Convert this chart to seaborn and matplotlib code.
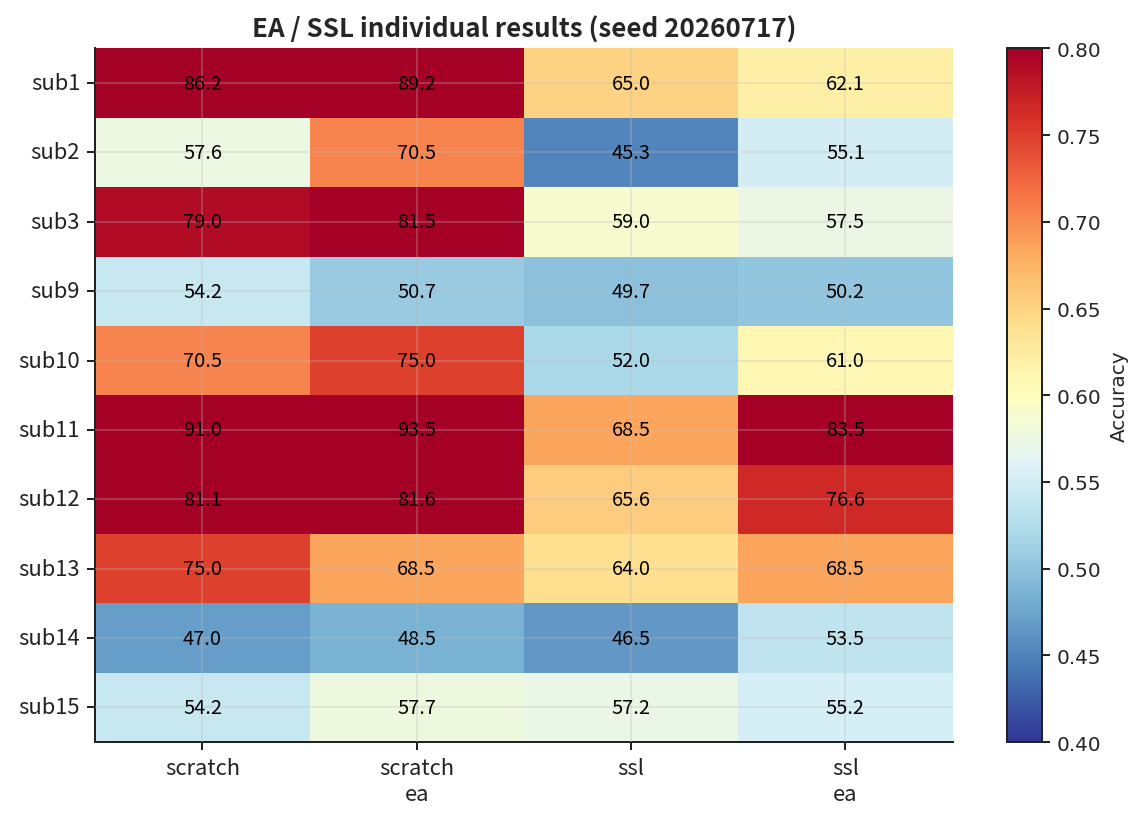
import numpy as np
import pandas as pd
import seaborn as sns
import matplotlib.pyplot as plt

subjects = ['sub1', 'sub2', 'sub3', 'sub9', 'sub10', 'sub11', 'sub12', 'sub13', 'sub14', 'sub15']
methods = ['scratch', 'scratch\nea', 'ssl', 'ssl\nea']

scratch = [86.2, 57.6, 79.0, 54.2, 70.5, 91.0, 81.1, 75.0, 47.0, 54.2]
scratch_ea = [89.2, 70.5, 81.5, 50.7, 75.0, 93.5, 81.6, 68.5, 48.5, 57.7]
ssl = [65.0, 45.3, 59.0, 49.7, 52.0, 68.5, 65.6, 64.0, 46.5, 57.2]
ssl_ea = [62.1, 55.1, 57.5, 50.2, 61.0, 83.5, 76.6, 68.5, 53.5, 55.2]

acc = pd.DataFrame({'scratch': scratch, 'scratch\nea': scratch_ea,
                    'ssl': ssl, 'ssl\nea': ssl_ea}, index=subjects)[methods] / 100.0

sns.set_theme(style='white')
plt.rcParams['font.family'] = ['DejaVu Sans']
cjk = ['Noto Sans CJK TC', 'DejaVu Sans']

fig, ax = plt.subplots(figsize=(7.97, 5.715), dpi=144)
plt.subplots_adjust(left=0.083, right=0.83, top=0.94, bottom=0.097)
cax = fig.add_axes([0.877, 0.097, 0.031, 0.843])

sns.heatmap(acc, cmap='RdYlBu_r', vmin=0.4, vmax=0.8, ax=ax, cbar_ax=cax,
            annot=acc.values * 100, fmt='.1f',
            annot_kws={'color': 'black', 'fontsize': 10, 'family': cjk},
            cbar_kws={'label': 'Accuracy'})

ax.set_axisbelow(False)
ax.grid(True, color='#bbbbbb', alpha=0.35, linewidth=0.8)
for side in ['left', 'bottom']:
    ax.spines[side].set_visible(True)
    ax.spines[side].set_color('#222222')
    ax.spines[side].set_linewidth(1.0)
ax.tick_params(axis='both', length=4, width=1, colors='#222222', left=True, bottom=True)
ax.set_xticklabels(methods, rotation=0, fontsize=11, family=cjk)
ax.set_yticklabels(subjects, rotation=0, fontsize=11, family=cjk)
ax.set_xlabel('')
ax.set_ylabel('')
ax.set_title('EA / SSL individual results (seed 20260717)', fontsize=13,
             fontweight='bold', family=cjk, pad=6)

cax.tick_params(labelsize=10, length=4, width=1, right=True)
cax.set_yticks([0.4, 0.45, 0.5, 0.55, 0.6, 0.65, 0.7, 0.75, 0.8])
cax.set_yticklabels(['0.40', '0.45', '0.50', '0.55', '0.60', '0.65', '0.70', '0.75', '0.80'])
cax.yaxis.label.set_size(10)
for sp in cax.spines.values():
    sp.set_visible(True)
    sp.set_color('#222222')
    sp.set_linewidth(1.0)

fig.savefig('out.png', dpi=144)
